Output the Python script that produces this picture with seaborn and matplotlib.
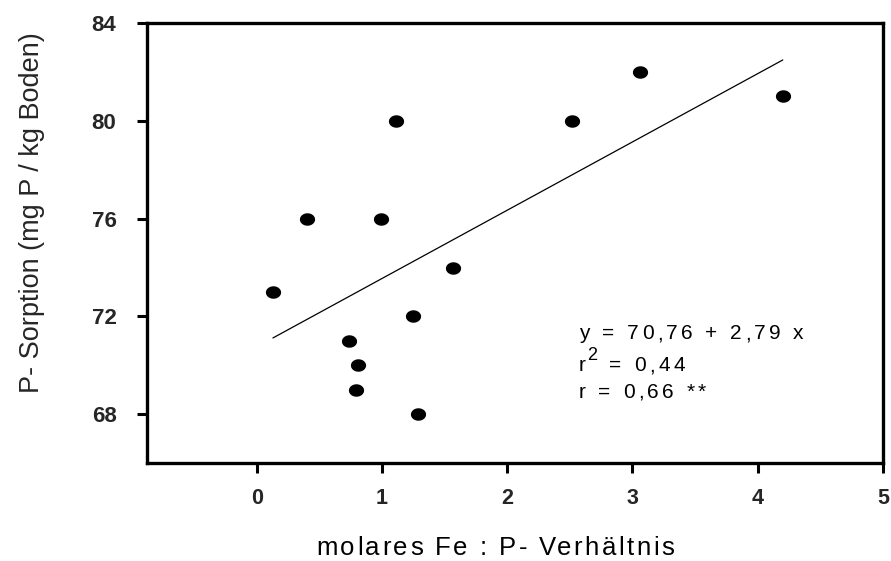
import numpy as np
import pandas as pd
import matplotlib
matplotlib.use("Agg")
import matplotlib.pyplot as plt
import matplotlib.transforms as mtransforms
from matplotlib.font_manager import FontProperties
import seaborn as sns

# Data
fe_p_ratio = [0.13, 0.40, 0.74, 0.81, 0.79, 0.99, 1.11, 1.25, 1.29, 1.57, 2.52, 3.06, 4.20]
p_sorption = [73, 76, 71, 70, 69, 76, 80, 72, 68, 74, 80, 82, 81]
intercept = 70.76
slope = 2.79
x_ticks = [0, 1, 2, 3, 4, 5]
y_ticks = [68, 72, 76, 80, 84]
x_label = "molares Fe : P- Verhältnis"
y_label = "P- Sorption (mg P / kg Boden)"
eq_line1 = "y = 70,76 + 2,79 x"
eq_line2a = "r"
eq_line2sup = "2"
eq_line2b = " = 0,44"
eq_line3 = "r = 0,66 **"

sns.set_theme(style="white")
FAM = ['Liberation Sans', 'DejaVu Sans']
plt.rcParams['font.family'] = FAM

df = pd.DataFrame({"x": fe_p_ratio, "y": p_sorption})
x_line = np.array([min(fe_p_ratio), max(fe_p_ratio)])
line_df = pd.DataFrame({"x": x_line, "y": intercept + slope * x_line})

fig = plt.figure(figsize=(8.91, 5.61), dpi=100)
ax = fig.add_axes([0.165, 0.174, 0.826, 0.7855])
renderer = fig.canvas.get_renderer()


def char_width(c, fp):
    w_ref = renderer.get_text_width_height_descent("aa", fp, ismath=False)[0]
    w = renderer.get_text_width_height_descent("a" + c + "a", fp, ismath=False)[0]
    return w - w_ref


def tracked_text(x, y, s, size, track, transform, ha="left", weight="normal"):
    """Draw text with extra letter spacing (track in pixels). Returns end offset in px."""
    fp = FontProperties(family=FAM, size=size, weight=weight)
    widths = [char_width(c, fp) for c in s]
    total = sum(widths) + track * (len(s) - 1)
    pos = -total / 2 if ha == "center" else 0.0
    for c, w in zip(s, widths):
        off = mtransforms.ScaledTranslation(pos / fig.dpi, 0, fig.dpi_scale_trans)
        fig.text(x, y, c, transform=transform + off, fontproperties=fp,
                 ha="left", va="baseline", color="black")
        pos += w + track
    return pos


# elliptical marker (slightly wider than tall)
t = np.linspace(0, 2 * np.pi, 40)
ell = list(zip(np.cos(t), 0.82 * np.sin(t)))

sns.lineplot(data=line_df, x="x", y="y", ax=ax, color="black", linewidth=0.9)
sns.scatterplot(data=df, x="x", y="y", ax=ax, marker=ell, s=120, color="black",
                edgecolor="black", linewidth=0, zorder=3)

ax.set_xlim(-0.875, 5)
ax.set_ylim(66, 84)
ax.set_xticks(x_ticks)
ax.set_yticks(y_ticks)
ax.set_xticklabels([str(v) for v in x_ticks], fontsize=15.5, fontweight="bold")
ax.set_yticklabels([str(v) for v in y_ticks], fontsize=16, fontweight="bold")
ax.tick_params(axis="both", direction="out", length=7, width=2.2, color="black",
               bottom=True, left=True)
ax.tick_params(axis="x", pad=11)
ax.tick_params(axis="y", pad=15)
for sp in ax.spines.values():
    sp.set_linewidth(2.4)
    sp.set_color("black")
ax.set_xlabel("")
ax.set_ylabel(y_label, fontsize=19.5)
ax.yaxis.set_label_coords(-0.139, 0.568)

# x label with letter spacing, baseline near bottom of figure
tracked_text(495 / 891, 1 - 555 / 561, x_label, 18.5, 2.5, fig.transFigure, ha="center")

# regression equation text
eq_x = 579 / 891
tr = 3.4
tracked_text(eq_x, 1 - 339 / 561, eq_line1, 15, tr, fig.transFigure)
end = tracked_text(eq_x, 1 - 371 / 561, eq_line2a, 15, tr, fig.transFigure)
end2 = tracked_text(eq_x + (end - tr + 1) / 891, 1 - 360 / 561, eq_line2sup, 13, tr, fig.transFigure)
tracked_text(eq_x + (end - tr + 1 + end2) / 891, 1 - 371 / 561, eq_line2b, 15, tr, fig.transFigure)
tracked_text(eq_x, 1 - 398 / 561, eq_line3, 15, tr, fig.transFigure)

fig.savefig("out.png", dpi=100)
